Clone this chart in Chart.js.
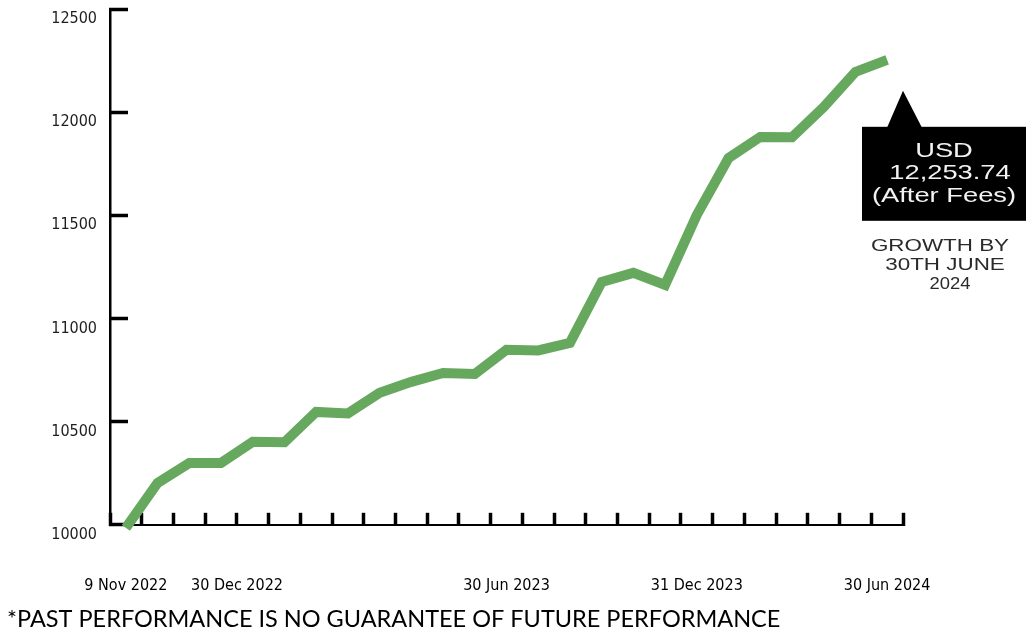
<!DOCTYPE html>
<html>
<head>
<meta charset="utf-8" />
<script src="https://cdn.jsdelivr.net/npm/chart.js@4.4.1/dist/chart.umd.min.js"></script>
<style>
  html, body { margin: 0; padding: 0; background: #ffffff; }
  .chartBox { position: relative; width: 1026px; height: 638px; }
</style>
</head>
<body>
<div class="chartBox">
  <canvas id="growthChart"></canvas>
</div>
<script>
"use strict";

// ? DATA
// ! ========================== ! \\
const xLabels = [
  "9 Nov 2022", "", "", "       30 Dec 2022", "", "", "", "", "", "", "", "",
  "30 Jun 2023", "", "", "", "", "", "31 Dec 2023", "", "", "", "", "", "30 Jun 2024",
];
const growthValues = [
  9985, 10203, 10300, 10300, 10402, 10400, 10547, 10540, 10640, 10693,
  10736, 10731, 10848, 10845, 10882, 11177, 11221, 11163, 11502, 11778,
  11880, 11878, 12025, 12195, 12253.74,
];
const yTicks = { min: 10000, max: 12500, step: 500 };
const calloutLines = ["USD", "12,253.74", "(After Fees)"];
const growthLines = ["GROWTH BY", "30TH JUNE", "2024"];
const footnote = "*PAST PERFORMANCE IS NO GUARANTEE OF FUTURE PERFORMANCE";

const tickFont = "'Liberation Sans Narrow', 'DejaVu Sans Condensed', 'Roboto Condensed', sans-serif";

// ? CALLOUT (black box under the last point)
// ! ========================== ! \\
const calloutPlugin = {
  id: "callout",
  afterDraw: (chart) => {
    const { ctx, chartArea, scales } = chart;
    const lastVal = growthValues[growthValues.length - 1];
    const apexX = chartArea.right;
    const apexY = scales.y.getPixelForValue(lastVal) + 31;
    const boxTop = apexY + 36;
    const boxLeft = apexX - 41;
    const boxRight = chart.width;
    const boxBottom = boxTop + 94;
    const cx = 944;

    ctx.save();
    ctx.fillStyle = "#000000";
    ctx.beginPath();
    ctx.moveTo(apexX, apexY);
    ctx.lineTo(apexX + 19, boxTop + 1);
    ctx.lineTo(apexX - 16, boxTop + 1);
    ctx.closePath();
    ctx.fill();
    ctx.fillRect(boxLeft, boxTop, boxRight - boxLeft, boxBottom - boxTop);

    // box text, a bit stretched like the original
    ctx.textAlign = "center";
    ctx.textBaseline = "middle";
    ctx.fillStyle = "#f2f2f2";
    ctx.font = "21px 'Liberation Sans', Arial, sans-serif";
    calloutLines.forEach((line, i) => {
      ctx.save();
      ctx.translate(cx + (i === 1 ? 6 : 0), boxTop + 24 + i * 22.5);
      ctx.scale(1.3, 1);
      ctx.fillText(line, 0, 0);
      ctx.restore();
    });

    ctx.fillStyle = "#2a2a2a";
    ctx.font = "16px 'Liberation Sans', Arial, sans-serif";
    growthLines.forEach((line, i) => {
      ctx.save();
      ctx.translate(cx - 4 + i * 5, boxBottom + 26 + i * 19);
      ctx.scale(i === 2 ? 1.15 : 1.4, 1);
      ctx.fillText(line, 0, 0);
      ctx.restore();
    });
    ctx.restore();
  },
};

// ? CHART
// ! ========================== ! \\
const config = {
  type: "line",
  data: {
    labels: xLabels,
    datasets: [
      {
        label: "Growth",
        data: growthValues,
        borderColor: "#66a85e",
        backgroundColor: "#66a85e",
        borderWidth: 10,
        tension: 0,
        pointRadius: 0,
        borderJoinStyle: "miter",
        borderCapStyle: "butt",
        clip: false,
      },
    ],
  },
  options: {
    responsive: true,
    maintainAspectRatio: false,
    animation: false,
    layout: { padding: { left: 7, right: 123, top: 9, bottom: 4 } },
    plugins: {
      legend: { display: false },
      tooltip: { enabled: false },
      title: {
        display: true,
        text: footnote,
        position: "bottom",
        align: "start",
        color: "#000000",
        font: { family: "Lato, 'Open Sans', sans-serif", size: 23.5, weight: "normal" },
        padding: 0,
      },
    },
    scales: {
      x: {
        type: "category",
        offset: true,
        grid: {
          offset: true,
          drawOnChartArea: false,
          drawTicks: true,
          tickLength: -12,
          tickWidth: 3.5,
          tickColor: "#000000",
        },
        border: { display: true, color: "#000000", width: 2 },
        ticks: {
          autoSkip: false,
          maxRotation: 0,
          minRotation: 0,
          color: "#000000",
          padding: 63,
          font: { family: tickFont, size: 16 },
        },
        afterFit: (scale) => {
          scale.height = 81;
          scale.paddingLeft = 0;
          scale.paddingRight = 0;
        },
      },
      y: {
        min: yTicks.min,
        max: yTicks.max,
        grid: {
          drawOnChartArea: false,
          drawTicks: true,
          tickLength: -18,
          tickWidth: 3.5,
          tickColor: "#000000",
        },
        border: { display: true, color: "#000000", width: 2.5 },
        ticks: {
          stepSize: yTicks.step,
          color: "#1e1e1e",
          padding: 31,
          labelOffset: 10,
          font: { family: tickFont, size: 16 },
          callback: (value) => String(value),
        },
        afterFit: (scale) => {
          scale.width = 103;
          scale.paddingTop = 0;
          scale.paddingBottom = 0;
        },
      },
    },
  },
  plugins: [calloutPlugin],
};

const ctx = document.getElementById("growthChart").getContext("2d");
const chart = new Chart(ctx, config);
</script>
</body>
</html>
